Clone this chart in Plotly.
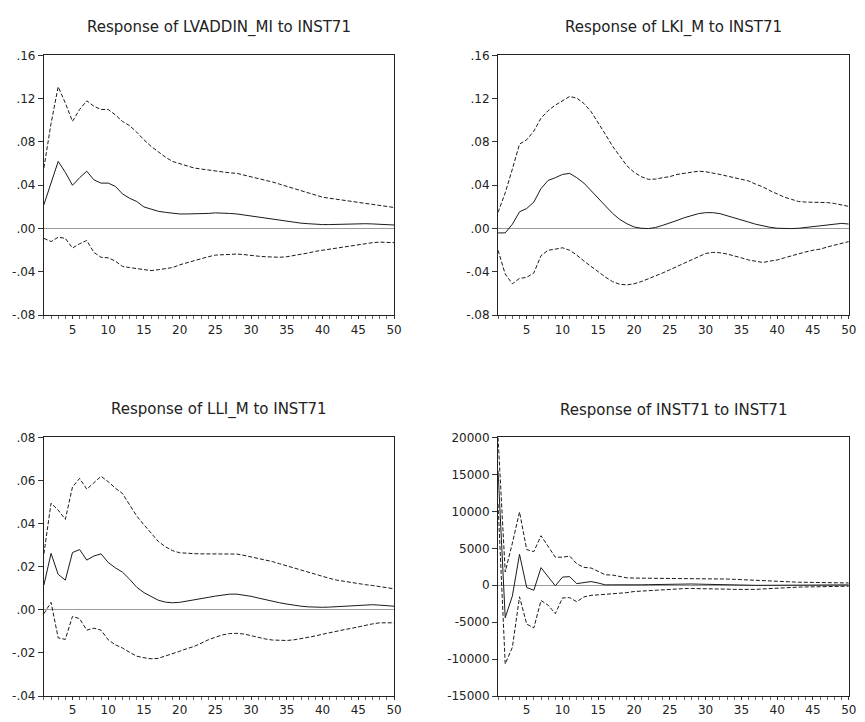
import plotly.graph_objects as go

periods = list(range(1, 51))

# Panel 1: Response of LVADDIN_MI to INST71
resp_lvaddin = [0.022, 0.042, 0.062, 0.052, 0.040, 0.047, 0.053, 0.045, 0.042, 0.042,
                0.039, 0.032, 0.028, 0.025, 0.020, 0.018, 0.016, 0.015, 0.014, 0.0135,
                0.0135, 0.0135, 0.014, 0.014, 0.0145, 0.0145, 0.014, 0.0135, 0.0125, 0.0115,
                0.0105, 0.0095, 0.0085, 0.0075, 0.0065, 0.0058, 0.005, 0.0045, 0.004, 0.0037,
                0.0037, 0.004, 0.0043, 0.0045, 0.0045, 0.0045, 0.0043, 0.004, 0.0036, 0.0033]
upper_lvaddin = [0.056, 0.097, 0.131, 0.116, 0.099, 0.110, 0.118, 0.113, 0.110, 0.110,
                 0.105, 0.099, 0.095, 0.089, 0.082, 0.076, 0.071, 0.066, 0.062, 0.060,
                 0.058, 0.056, 0.055, 0.054, 0.053, 0.052, 0.0515, 0.051, 0.0495, 0.048,
                 0.0465, 0.045, 0.043, 0.041, 0.039, 0.037, 0.035, 0.033, 0.031, 0.029,
                 0.028, 0.027, 0.026, 0.025, 0.024, 0.023, 0.022, 0.0215, 0.0205, 0.0195]
lower_lvaddin = [-0.009, -0.012, -0.008, -0.009, -0.018, -0.014, -0.011, -0.022, -0.0265, -0.027,
                 -0.030, -0.035, -0.036, -0.037, -0.038, -0.0388, -0.038, -0.037, -0.036, -0.0335,
                 -0.0315, -0.030, -0.028, -0.026, -0.0245, -0.024, -0.0235, -0.0235, -0.024, -0.025,
                 -0.0255, -0.026, -0.0265, -0.0265, -0.026, -0.025, -0.024, -0.0225, -0.021, -0.020,
                 -0.019, -0.0175, -0.0165, -0.0155, -0.0145, -0.0135, -0.013, -0.0125, -0.0125, -0.013]

# Panel 2: Response of LKI_M to INST71
resp_lki = [-0.004, -0.004, 0.004, 0.0155, 0.0185, 0.0245, 0.037, 0.0445, 0.047, 0.050,
            0.051, 0.047, 0.042, 0.035, 0.028, 0.021, 0.014, 0.0085, 0.0045, 0.0015,
            0.0003, 0.0, 0.001, 0.003, 0.005, 0.0075, 0.010, 0.012, 0.0138, 0.0147,
            0.0147, 0.0138, 0.012, 0.010, 0.008, 0.006, 0.004, 0.0025, 0.0012, 0.0003,
            0.0, 0.0, 0.0003, 0.001, 0.002, 0.003, 0.0036, 0.0042, 0.0048, 0.0042]
upper_lki = [0.015, 0.033, 0.055, 0.078, 0.082, 0.090, 0.102, 0.109, 0.114, 0.118,
             0.122, 0.1205, 0.1155, 0.108, 0.098, 0.087, 0.076, 0.0665, 0.058, 0.052,
             0.048, 0.0455, 0.0457, 0.047, 0.048, 0.050, 0.051, 0.052, 0.053, 0.0525,
             0.0515, 0.050, 0.0485, 0.047, 0.0455, 0.044, 0.041, 0.0385, 0.035, 0.032,
             0.029, 0.027, 0.025, 0.0245, 0.0245, 0.0245, 0.024, 0.0232, 0.022, 0.0205]
lower_lki = [-0.020, -0.042, -0.051, -0.046, -0.045, -0.041, -0.025, -0.020, -0.019, -0.0177,
             -0.020, -0.0245, -0.030, -0.035, -0.040, -0.0448, -0.049, -0.0514, -0.052, -0.051,
             -0.049, -0.0465, -0.044, -0.041, -0.038, -0.035, -0.0315, -0.0285, -0.0255, -0.023,
             -0.022, -0.0223, -0.0235, -0.025, -0.027, -0.029, -0.0305, -0.0313, -0.030, -0.029,
             -0.027, -0.025, -0.023, -0.0215, -0.020, -0.019, -0.017, -0.0153, -0.0135, -0.012]

# Panel 3: Response of LLI_M to INST71
resp_lli = [0.0115, 0.0262, 0.0165, 0.0138, 0.0266, 0.028, 0.0231, 0.025, 0.026, 0.022,
            0.0195, 0.0175, 0.0142, 0.0105, 0.008, 0.0062, 0.0045, 0.0036, 0.0033, 0.0035,
            0.004, 0.0046, 0.0052, 0.0058, 0.0064, 0.0069, 0.0073, 0.0073, 0.0069, 0.0063,
            0.0055, 0.0047, 0.004, 0.0033, 0.0027, 0.0021, 0.0017, 0.0014, 0.0012, 0.0012,
            0.0013, 0.0015, 0.0018, 0.0021, 0.0023, 0.0024, 0.0024, 0.0022, 0.002, 0.0017]
upper_lli = [0.026, 0.0495, 0.0463, 0.042, 0.057, 0.061, 0.056, 0.059, 0.062, 0.0595,
             0.0565, 0.054, 0.049, 0.0435, 0.0395, 0.0355, 0.0318, 0.0293, 0.0275, 0.0265,
             0.0262, 0.0261, 0.026, 0.026, 0.026, 0.0261, 0.0261, 0.0259, 0.0253, 0.0246,
             0.024, 0.0232, 0.0224, 0.0214, 0.0204, 0.0194, 0.0184, 0.0174, 0.0164, 0.0155,
             0.0146, 0.0138, 0.0132, 0.0127, 0.0122, 0.0117, 0.0113, 0.0109, 0.0103, 0.0098]
lower_lli = [-0.0018, 0.0035, -0.013, -0.0137, -0.003, -0.0041, -0.0094, -0.0085, -0.0094, -0.0139,
             -0.0162, -0.0177, -0.0197, -0.0215, -0.0222, -0.0227, -0.0225, -0.0215, -0.0204, -0.0192,
             -0.018, -0.017, -0.0155, -0.0139, -0.0127, -0.0116, -0.011, -0.0109, -0.0112, -0.012,
             -0.0128, -0.0135, -0.014, -0.0142, -0.0142, -0.0139, -0.0134, -0.0129, -0.0121, -0.0113,
             -0.0105, -0.0098, -0.0092, -0.0086, -0.0078, -0.0071, -0.0065, -0.006, -0.006, -0.006]

# Panel 4: Response of INST71 to INST71
resp_inst = [15500, -4400, -1450, 4190, -300, -680, 2380, 1190, -80, 1100,
             1170, 220, 310, 500, 300, 50, 60, 40, 20, 40,
             60, 80, 110, 140, 160, 170, 175, 170, 150, 120,
             90, 60, 40, 20, 10, 0, -10, -10, 0, 10,
             20, 30, 40, 50, 60, 60, 60, 60, 60, 50]
upper_inst = [20000, 1800, 5700, 9920, 4830, 4550, 6700, 5320, 3800, 3800,
              3950, 2900, 2425, 2330, 1850, 1411, 1380, 1190, 1000, 970,
              960, 950, 950, 950, 950, 960, 960, 960, 950, 930,
              900, 870, 840, 800, 750, 700, 660, 600, 530, 470,
              440, 420, 410, 400, 400, 390, 370, 350, 330, 310]
lower_inst = [11000, -10650, -8400, -1560, -5250, -5780, -2070, -2700, -3840, -1720,
              -1675, -2230, -1580, -1367, -1300, -1250, -1200, -1050, -1000, -850,
              -780, -700, -640, -580, -520, -480, -450, -440, -440, -450,
              -470, -500, -530, -560, -580, -580, -560, -500, -430, -370,
              -320, -280, -250, -230, -220, -200, -180, -160, -140, -130]

titles = ["Response of LVADDIN_MI to INST71", "Response of LKI_M to INST71",
          "Response of LLI_M to INST71", "Response of INST71 to INST71"]

small_ticks = [-0.08, -0.04, 0.0, 0.04, 0.08, 0.12, 0.16]
small_labels = ["-.08", "-.04", ".00", ".04", ".08", ".12", ".16"]
lli_ticks = [-0.04, -0.02, 0.0, 0.02, 0.04, 0.06, 0.08]
lli_labels = ["-.04", "-.02", ".00", ".02", ".04", ".06", ".08"]
inst_ticks = [-15000, -10000, -5000, 0, 5000, 10000, 15000, 20000]
inst_labels = ["-15000", "-10000", "-5000", "0", "5000", "10000", "15000", "20000"]
x_ticks = [5, 10, 15, 20, 25, 30, 35, 40, 45, 50]

W, H = 865, 722
px = lambda v: v / W
py = lambda v: 1 - v / H

panels = [
    dict(series=(resp_lvaddin, upper_lvaddin, lower_lvaddin), yr=[-0.08, 0.16],
         tv=small_ticks, tt=small_labels, x0=44.3, x1=397.7, y0=49.3, y1=314.3),
    dict(series=(resp_lki, upper_lki, lower_lki), yr=[-0.08, 0.16],
         tv=small_ticks, tt=small_labels, x0=502.7, x1=856.7, y0=49.3, y1=314.3),
    dict(series=(resp_lli, upper_lli, lower_lli), yr=[-0.04, 0.08],
         tv=lli_ticks, tt=lli_labels, x0=44.3, x1=397.7, y0=439.0, y1=702.7),
    dict(series=(resp_inst, upper_inst, lower_inst), yr=[-15000, 20000],
         tv=inst_ticks, tt=inst_labels, x0=502.7, x1=856.7, y0=439.0, y1=702.7),
]

fig = go.Figure()
tick_font = "DejaVu Sans, Liberation Sans, Arial, sans-serif"
title_font = "DejaVu Sans, Liberation Sans, Arial, sans-serif"
annotations = []

for i, p in enumerate(panels, start=1):
    xa = "x" if i == 1 else f"x{i}"
    ya = "y" if i == 1 else f"y{i}"
    resp, up, lo = p["series"]
    for vals, dash in ((up, "4px,2px"), (lo, "4px,2px"), (resp, "solid")):
        fig.add_trace(go.Scatter(x=periods, y=vals, mode="lines", xaxis=xa, yaxis=ya,
                                 line=dict(color="#1a1a1a", width=1, dash=dash),
                                 showlegend=False, hoverinfo="skip"))
    xkey = "xaxis" if i == 1 else f"xaxis{i}"
    ykey = "yaxis" if i == 1 else f"yaxis{i}"
    fig.layout[xkey] = dict(
        domain=[px(p["x0"]), px(p["x1"])], anchor=ya, range=[1, 50],
        tickvals=x_ticks, ticks="outside", ticklen=3, tickcolor="#333",
        minor=dict(dtick=1, tick0=0, ticks="outside", ticklen=3, tickcolor="#666"),
        showline=True, linecolor="#222", linewidth=1, mirror=True,
        showgrid=False, zeroline=False,
        tickfont=dict(family=tick_font, size=12, color="#222"))
    fig.layout[ykey] = dict(
        domain=[py(p["y1"]), py(p["y0"])], anchor=xa, range=p["yr"],
        tickvals=p["tv"], ticktext=p["tt"], ticks="outside", ticklen=5, tickcolor="#333",
        showline=True, linecolor="#222", linewidth=1, mirror=True,
        showgrid=False, zeroline=True, zerolinecolor="#9a9a9a", zerolinewidth=1,
        tickfont=dict(family=tick_font, size=12, color="#222"))
    annotations.append(dict(text=titles[i - 1], x=px((p["x0"] + p["x1"]) / 2),
                            y=py(p["y0"] - 28.5), xref="paper", yref="paper",
                            xanchor="center", yanchor="middle", showarrow=False,
                            font=dict(family=title_font, size=15, color="#222")))

fig.update_layout(width=W, height=H, margin=dict(l=0, r=0, t=0, b=0),
                  paper_bgcolor="white", plot_bgcolor="white",
                  annotations=annotations, showlegend=False)

fig.write_html("out.html", config={"displayModeBar": False},
               post_script="document.body.style.margin='0px';")
